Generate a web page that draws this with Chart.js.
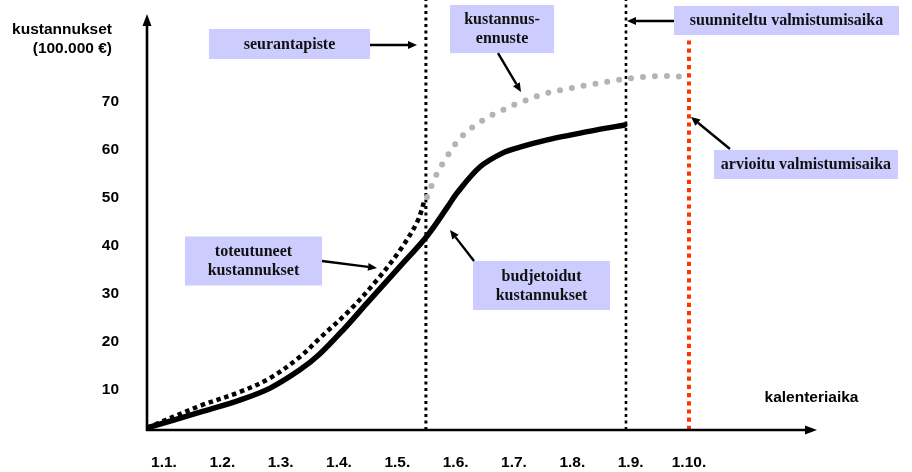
<!DOCTYPE html>
<html><head><meta charset="utf-8">
<script src="https://cdn.jsdelivr.net/npm/chart.js@4.4.1/dist/chart.umd.min.js"></script>
<style>html,body{margin:0;padding:0;background:#fff}#wrap{width:912px;height:472px}</style>
</head><body><div id="wrap"><canvas id="c" width="912" height="472"></canvas></div>
<script>
// ---- data ----
const monthLabels = ['1.1.','1.2.','1.3.','1.4.','1.5.','1.6.','1.7.','1.8.','1.9.','1.10.'];
const monthTicks = [1,2,3,4,5,6,7,8,9,10];
const valueTicks = [10,20,30,40,50,60,70];

// budjetoidut kustannukset (budgeted costs)
const budgetMonths = [0.71,1.62,2.30,2.82,3.33,3.67,4.10,4.48,5.05,5.51,5.87,6.02,6.42,6.81,7.10,7.57,7.96,8.42,8.90];
const budgetValues = [2.1,5.4,7.9,10.4,14.2,17.5,22.9,28.1,35.8,42.1,48.3,51.0,56.5,59.4,60.6,62.1,63.1,64.2,65.2];

// toteutuneet kustannukset (actual costs)
const actualMonths = [0.71,1.62,2.30,2.82,3.33,3.67,4.19,4.65,5.05,5.34,5.47];
const actualValues = [2.1,6.7,9.6,12.5,16.9,20.8,26.7,32.9,39.2,45.0,49.6];

// kustannusennuste (cost forecast)
const forecastMonths = [5.51,5.66,5.87,6.11,6.44,6.80,7.17,7.58,7.98,8.37,8.78,9.20,9.61,10.0];
const forecastValues = [50.2,54.6,59.0,62.9,66.0,68.3,70.2,71.9,72.9,73.75,74.6,75.2,75.4,75.2];

// vertical markers (months)
const reviewPoint = 5.49;     // seurantapiste
const plannedEnd = 8.92;      // suunniteltu valmistumisaika
const estimatedEnd = 10.0;    // arvioitu valmistumisaika
const estimatedEndTop = 82.9;

// axis ranges
const xMin = 0.7086, xMax = 12.195;
const yMin = 1.667, yMax = 91.25, yArrowTop = 88.33;

// annotations (data units)
const notes = [
  {text:['seurantapiste'], x:3.152, y:82.08, w:161, h:30, from:[4.532,81.875], to:[5.337,81.875]},
  {text:['kustannus-','ennuste'], x:6.795, y:85.2, w:104, h:48, from:[6.726,80.2], to:[7.120,72.1]},
  {text:['suunniteltu valmistumisaika'], x:11.672, y:86.98, w:225, h:29, from:[9.743,86.875], to:[8.938,86.875]},
  {text:['arvioitu valmistumisaika'], x:12.006, y:56.98, w:184, h:29, from:[10.703,60.21], to:[10.035,66.875]},
  {text:['toteutuneet','kustannukset'], x:2.534, y:36.875, w:137, h:49, from:[3.709,36.875], to:[4.652,35.42]},
  {text:['budjetoidut','kustannukset'], x:7.472, y:31.77, w:137, h:49, from:[6.315,36.875], to:[5.903,43.33]}
];

const zip = (xs, ys) => xs.map((x,i)=>({x, y: ys[i]}));

function arrow(ctx, x1, y1, x2, y2, lw, hl, hw) {
  const a = Math.atan2(y2-y1, x2-x1);
  const bx = x2 - hl*Math.cos(a), by = y2 - hl*Math.sin(a);
  ctx.save();
  ctx.strokeStyle = '#000'; ctx.fillStyle = '#000'; ctx.lineWidth = lw;
  ctx.beginPath(); ctx.moveTo(x1,y1); ctx.lineTo(bx,by); ctx.stroke();
  ctx.beginPath();
  ctx.moveTo(x2,y2);
  ctx.lineTo(bx + hw*Math.sin(a), by - hw*Math.cos(a));
  ctx.lineTo(bx - hw*Math.sin(a), by + hw*Math.cos(a));
  ctx.closePath(); ctx.fill();
  ctx.restore();
}

const decor = {
  id: 'decor',
  afterDatasetsDraw(chart) {
    const ctx = chart.ctx, xs = chart.scales.x, ys = chart.scales.y, ca = chart.chartArea;
    // axes
    arrow(ctx, ca.left, ca.bottom + 1, ca.left, ys.getPixelForValue(yArrowTop), 2.6, 12, 4.5);
    arrow(ctx, ca.left - 1, ca.bottom, ca.right, ca.bottom, 2.6, 12, 4.5);
    // axis titles
    ctx.save();
    ctx.fillStyle = '#000';
    ctx.font = 'bold 15.5px "Liberation Sans", Arial, sans-serif';
    ctx.textBaseline = 'middle';
    ctx.textAlign = 'right';
    ctx.fillText('kustannukset', 112, 29.5);
    ctx.fillText('(100.000 €)', 112, 48.5);
    ctx.textAlign = 'center';
    ctx.fillText('kalenteriaika', 811.5, 397.5);
    ctx.restore();
    // annotation boxes + arrows
    notes.forEach(n => {
      const cx = xs.getPixelForValue(n.x), cy = ys.getPixelForValue(n.y);
      ctx.save();
      ctx.fillStyle = '#ccccff';
      ctx.fillRect(cx - n.w/2, cy - n.h/2, n.w, n.h);
      ctx.fillStyle = '#111';
      ctx.font = 'bold 16px "Liberation Serif", "Times New Roman", serif';
      ctx.textAlign = 'center'; ctx.textBaseline = 'middle';
      const lh = 19.2, off = (n.text.length - 1) * lh / 2;
      n.text.forEach((t, i) => ctx.fillText(t, cx, cy - off + i*lh + 0.5));
      ctx.restore();
      arrow(ctx, xs.getPixelForValue(n.from[0]), ys.getPixelForValue(n.from[1]),
                 xs.getPixelForValue(n.to[0]), ys.getPixelForValue(n.to[1]), 2.4, 9, 4);
    });
  }
};

new Chart(document.getElementById('c'), {
  type: 'line',
  data: {
    datasets: [
      {label:'budjetoidut kustannukset', data: zip(budgetMonths, budgetValues), borderColor:'#000', borderWidth:5.5,
       pointRadius:0, tension:0.35, borderCapStyle:'round', borderJoinStyle:'round'},
      {label:'kustannusennuste', data: zip(forecastMonths, forecastValues), borderColor:'#b4b4b4', borderWidth:6,
       borderDash:[0,12], borderCapStyle:'round', pointRadius:0, tension:0.35},
      {label:'toteutuneet kustannukset', data: zip(actualMonths, actualValues), borderColor:'#000', borderWidth:4.5,
       borderDash:[4.5,3.8], pointRadius:0, tension:0.35},
      {label:'seurantapiste', data: zip([reviewPoint, reviewPoint], [yMin, yMax]), borderColor:'#000', borderWidth:3,
       borderDash:[3,3.5], pointRadius:0},
      {label:'suunniteltu valmistumisaika', data: zip([plannedEnd, plannedEnd], [yMin, yMax]), borderColor:'#000', borderWidth:2.6,
       borderDash:[3,3.5], pointRadius:0},
      {label:'arvioitu valmistumisaika', data: zip([estimatedEnd, estimatedEnd], [yMin, estimatedEndTop]), borderColor:'#ff3300', borderWidth:4,
       borderDash:[4.2,4], pointRadius:0}
    ]
  },
  options: {
    responsive: false,
    animation: false,
    layout: { padding: { left: 0, right: 95, top: 0, bottom: 0 }, autoPadding: false },
    plugins: { legend: { display: false }, tooltip: { enabled: false } },
    scales: {
      x: {
        type: 'linear', min: xMin, max: xMax,
        grid: { display: false, drawTicks: false }, border: { display: false },
        afterBuildTicks: s => { s.ticks = monthTicks.map(v => ({ value: v })); },
        afterFit: s => { s.height = 42; s.paddingLeft = 0; s.paddingRight = 0; },
        ticks: {
          padding: 23, maxRotation: 0, autoSkip: false, color: '#000',
          font: { family: '"Liberation Sans", Arial, sans-serif', size: 15.5, weight: 'bold' },
          callback: v => monthLabels[monthTicks.indexOf(v)]
        }
      },
      y: {
        type: 'linear', min: yMin, max: yMax,
        grid: { display: false, drawTicks: false }, border: { display: false },
        afterBuildTicks: s => { s.ticks = valueTicks.map(v => ({ value: v })); },
        afterFit: s => { s.width = 147; s.paddingTop = 0; s.paddingBottom = 0; },
        ticks: {
          padding: 28, color: '#000',
          font: { family: '"Liberation Sans", Arial, sans-serif', size: 15.5, weight: 'bold' },
          callback: v => String(v)
        }
      }
    }
  },
  plugins: [decor]
});
</script>
</body></html>
